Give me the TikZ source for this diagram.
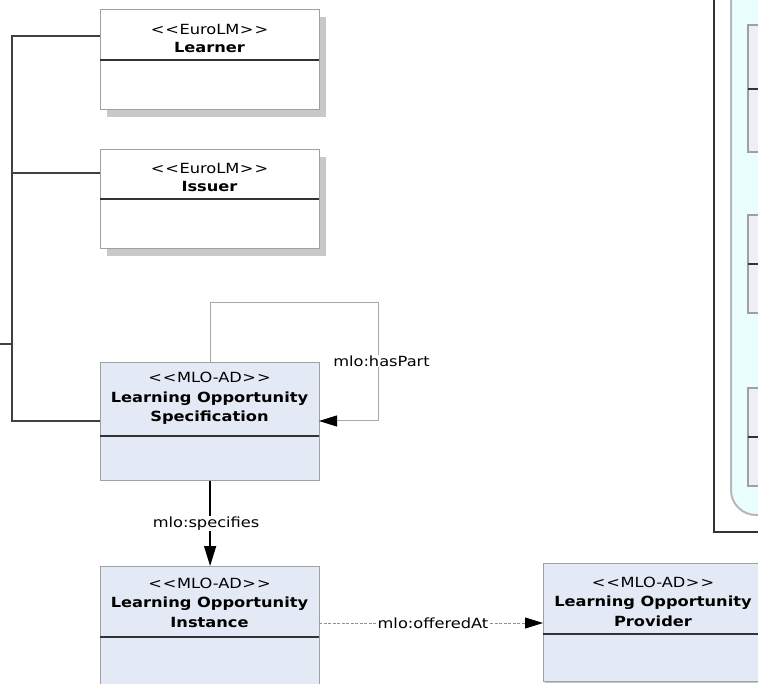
\documentclass[tikz,border=0pt]{standalone}
\usepackage{fontspec}
\setmainfont[FakeStretch=1.16]{DejaVu Sans}
\usetikzlibrary{arrows.meta}
\definecolor{boxline}{HTML}{A0A0A0}
\definecolor{divline}{HTML}{333333}
\definecolor{shadowc}{HTML}{C8C8C8}
\definecolor{lofill}{HTML}{E4EAF5}
\definecolor{cyanfill}{HTML}{EAFEFE}
\definecolor{cyanline}{HTML}{B8B8B8}
\definecolor{innerfill}{HTML}{EEEEF6}
\definecolor{treeline}{HTML}{404040}
\definecolor{loopline}{HTML}{A8A8A8}
\definecolor{dashline}{HTML}{909090}
\newcommand{\stlt}{\textless\kern1pt\textless\kern0.5pt}
\newcommand{\stgt}{\kern0.5pt\textgreater\kern1pt\textgreater}
\begin{document}
\begin{tikzpicture}[x=1pt,y=-1pt,
  every node/.style={font=\fontsize{14}{19.5}\selectfont},
  classbox/.style={draw=boxline, line width=1.2pt, rectangle, inner sep=0pt, anchor=north west, fill=white},
  lobox/.style={classbox, fill=lofill},
  innerbox/.style={draw=boxline, line width=1.2pt, fill=innerfill},
  divider/.style={draw=divline, line width=2pt},
  headtxt/.style={anchor=north, align=center, inner sep=0pt},
  eurotxt/.style={headtxt, font=\fontsize{14}{18}\selectfont},
  lbl/.style={fill=white, inner sep=1pt},
  tline/.style={draw=treeline, line width=1.6pt},
  gline/.style={draw=loopline, line width=1pt},
  blkarrow/.style={-{Triangle[length=18pt,width=11pt,color=black]}},
]
\useasboundingbox (0,0) rectangle (758,684);
\clip (0,0) rectangle (758,684);

% right panel
\draw[draw=divline, line width=1.3pt, fill=white] (714,-10) rectangle (820,532);
\draw[draw=cyanline, line width=2pt, fill=cyanfill, rounded corners=25pt] (731,-40) rectangle (840,515);
\draw[innerbox] (748,25) rectangle (800,152);
\draw[divider] (748,89) -- (800,89);
\draw[innerbox] (748,215) rectangle (800,313);
\draw[divider] (748,264) -- (800,264);
\draw[innerbox] (748,388) rectangle (800,486);
\draw[divider] (748,437) -- (800,437);

% Learner
\fill[shadowc] (107,17) rectangle (326,117);
\node[classbox, minimum width=219pt, minimum height=100pt] (learner) at (100,9) {};
\draw[divider] (100,60) -- (319,60);
\node[eurotxt] (learnerT) at (209.5,24) {\stlt EuroLM\stgt\\\textbf{Learner}};

% Issuer
\fill[shadowc] (107,157) rectangle (326,256);
\node[classbox, minimum width=219pt, minimum height=99pt] (issuer) at (100,149) {};
\draw[divider] (100,199) -- (319,199);
\node[eurotxt] (issuerT) at (209.5,162.7) {\stlt EuroLM\stgt\\\textbf{Issuer}};

% Learning Opportunity Specification
\node[lobox, minimum width=219pt, minimum height=118pt] (los) at (100,362) {};
\draw[divider] (100,436) -- (319,436);
\node[headtxt] (losT) at (209.5,372) {\stlt MLO-AD\stgt\\\textbf{Learning Opportunity}\\\textbf{Specification}};

% Learning Opportunity Instance
\node[lobox, minimum width=219pt, minimum height=140pt] (loi) at (100,566) {};
\draw[divider] (100,637) -- (319,637);
\node[headtxt] (loiT) at (209.5,577.7) {\stlt MLO-AD\stgt\\\textbf{Learning Opportunity}\\\textbf{Instance}};

% Learning Opportunity Provider
\fill[shadowc] (545,566) rectangle (766,683);
\node[lobox, minimum width=220pt, minimum height=118pt] (lop) at (543,563) {};
\draw[divider] (543,634) -- (763,634);
\node[headtxt] (lopT) at (653,576.7) {\stlt MLO-AD\stgt\\\textbf{Learning Opportunity}\\\textbf{Provider}};

% connection points
\coordinate (lrnA) at (100,36);
\coordinate (issA) at (100,173);
\coordinate (losA) at (100,421);
\coordinate (trunkTop) at (12,36);
\coordinate (trunkBot) at (12,421);
\coordinate (trunkMid) at (12,344);
\coordinate (offL) at (0,344);
\coordinate (losTop) at (210,362);
\coordinate (losRight) at (319,421);
\coordinate (loiRight) at (319,623);
\coordinate (lopLeft) at (543,623);

% tree lines
\draw[tline] (lrnA) -- (trunkTop) -- (trunkBot) -- (losA);
\draw[tline] (issA) -- (12,173);
\draw[tline] (offL) -- (trunkMid);

% self loop
\draw[gline, blkarrow] (losTop) -- ++(0,-59) -- ++(168,0) -- ++(0,118) -- (losRight);
\node[lbl] (hasPart) at (381.5,361) {mlo:hasPart};

% specifies
\draw[draw=black, line width=1.6pt, -{Triangle[length=20pt,width=12pt]}] (los.south) -- (loi.north)
  node[lbl, midway, xshift=-4pt] (specL) {mlo:specifies};

% offeredAt
\draw[draw=dashline, line width=0.9pt, dash pattern=on 3pt off 1.5pt, blkarrow] (loiRight) -- (lopLeft)
  node[lbl, midway, xshift=2pt] (offL2) {mlo:offeredAt};
\end{tikzpicture}
\end{document}
